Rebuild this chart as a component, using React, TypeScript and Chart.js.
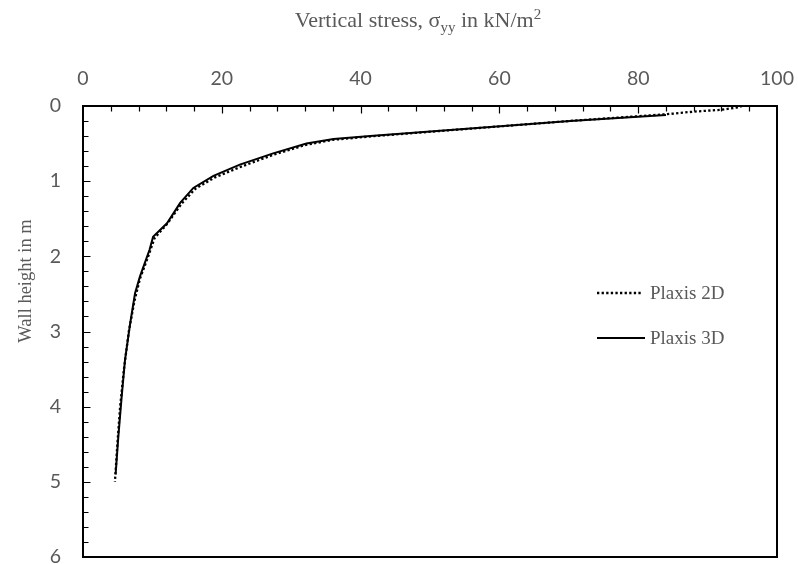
import { useEffect, useRef } from "react";
import { Chart, registerables } from "chart.js";

Chart.register(...registerables);

// Vertical stress (kN/m²) against depth below the wall top (m)
const depth2D = [0.0, 0.02, 0.05, 0.075, 0.11, 0.2, 0.3, 0.4, 0.45, 0.52, 0.65, 0.8, 0.95, 1.1, 1.3, 1.56, 1.76, 2.0, 2.3, 2.6, 3.0, 3.5, 4.0, 4.5, 5.0];
const stress2D = [95.0, 94.2, 92.0, 88.0, 84.0, 70.0, 56.0, 42.0, 36.0, 32.0, 27.4, 23.0, 19.0, 16.2, 14.2, 12.2, 10.3, 9.4, 8.2, 7.4, 6.6, 5.9, 5.35, 4.95, 4.6];

const depth3D = [0.12, 0.2, 0.3, 0.4, 0.44, 0.5, 0.63, 0.78, 0.93, 1.09, 1.29, 1.56, 1.74, 1.91, 2.27, 2.49, 2.89, 3.38, 3.87, 4.4, 4.9];
const stress3D = [84.0, 70.2, 55.8, 41.4, 36.1, 32.2, 27.4, 22.6, 18.8, 15.9, 14.0, 12.1, 10.1, 9.6, 8.2, 7.5, 6.8, 6.05, 5.57, 5.09, 4.7];

const seriesNames = ["Plaxis 2D", "Plaxis 3D"];

const stressMin = 0;
const stressMax = 100;
const stressStep = 20;
const stressMinorStep = 4;
const depthMin = 0;
const depthMax = 6;
const depthStep = 1;
const depthMinorStep = 0.2;

const yTitle = "Wall height in m";
const xTitleMain = "Vertical stress, σ";
const xTitleSub = "yy";
const xTitleRest = " in kN/m";
const xTitleSup = "2";

const GRAY = "#595959";
const SERIF = '"Liberation Serif", "Times New Roman", serif';
const SANS = 'Lato, "Open Sans", sans-serif';

const toPoints = (xs: number[], ys: number[]) => xs.map((x, i) => ({ x, y: ys[i] }));

// Closed frame with inward-pointing major and minor tick marks
const framePlugin = {
  id: "frameTicks",
  afterDatasetsDraw(chart: any) {
    const { ctx, chartArea } = chart;
    const xs = chart.scales.x;
    const ys = chart.scales.y;
    ctx.save();
    ctx.strokeStyle = "#000";
    ctx.lineWidth = 1.2;
    ctx.beginPath();
    for (let v = stressMin + stressMinorStep; v < stressMax - 1e-6; v += stressMinorStep) {
      const px = Math.round(xs.getPixelForValue(v)) + 0.5;
      const major = Math.abs(v / stressStep - Math.round(v / stressStep)) < 1e-6;
      ctx.moveTo(px, chartArea.top);
      ctx.lineTo(px, chartArea.top + (major ? 7.5 : 5.5));
    }
    for (let v = depthMin + depthMinorStep; v < depthMax - 1e-6; v += depthMinorStep) {
      const py = Math.round(ys.getPixelForValue(v)) + 0.5;
      const major = Math.abs(v / depthStep - Math.round(v / depthStep)) < 1e-6;
      ctx.moveTo(chartArea.left, py);
      ctx.lineTo(chartArea.left + (major ? 7.5 : 5.5), py);
    }
    ctx.stroke();
    ctx.lineWidth = 2;
    ctx.strokeRect(chartArea.left, chartArea.top, chartArea.right - chartArea.left, chartArea.bottom - chartArea.top);
    ctx.restore();
  },
};

// Axis titles, including the subscript and superscript of the stress title
const titlePlugin = {
  id: "axisTitles",
  afterDraw(chart: any) {
    const { ctx } = chart;
    ctx.save();
    ctx.fillStyle = GRAY;
    ctx.textBaseline = "alphabetic";
    const big = `22px ${SERIF}`;
    const small = `15px ${SERIF}`;
    ctx.font = big;
    const w1 = ctx.measureText(xTitleMain).width;
    const w3 = ctx.measureText(xTitleRest).width;
    ctx.font = small;
    const w2 = ctx.measureText(xTitleSub).width;
    const w4 = ctx.measureText(xTitleSup).width;
    const total = w1 + w2 + w3 + w4;
    const cx = 418;
    const base = 27;
    let x = cx - total / 2;
    ctx.textAlign = "left";
    ctx.font = big;
    ctx.fillText(xTitleMain, x, base);
    x += w1;
    ctx.font = small;
    ctx.fillText(xTitleSub, x, base + 5);
    x += w2;
    ctx.font = big;
    ctx.fillText(xTitleRest, x, base);
    x += w3;
    ctx.font = small;
    ctx.fillText(xTitleSup, x, base - 8);

    ctx.translate(26, 281);
    ctx.rotate(-Math.PI / 2);
    ctx.font = `18.5px ${SERIF}`;
    ctx.textAlign = "center";
    ctx.textBaseline = "middle";
    ctx.fillText(yTitle, 0, 0);
    ctx.restore();
  },
};

// Legend placed inside the plot, drawing each dataset's own line style
const legendPlugin = {
  id: "insideLegend",
  afterDraw(chart: any) {
    const { ctx } = chart;
    const rows = [293, 338];
    ctx.save();
    chart.data.datasets.forEach((ds: any, i: number) => {
      const y = rows[i];
      ctx.strokeStyle = ds.borderColor;
      ctx.lineWidth = ds.borderWidth;
      ctx.setLineDash(ds.borderDash || []);
      ctx.beginPath();
      ctx.moveTo(597, y);
      ctx.lineTo(i === 0 ? 641 : 645, y);
      ctx.stroke();
      ctx.setLineDash([]);
      ctx.fillStyle = GRAY;
      ctx.font = `19px ${SERIF}`;
      ctx.textAlign = "left";
      ctx.textBaseline = "middle";
      ctx.fillText(ds.label, 650, y + 1);
    });
    ctx.restore();
  },
};

export default function App() {
  const canvasRef = useRef<HTMLCanvasElement | null>(null);

  useEffect(() => {
    const canvas = canvasRef.current;
    if (!canvas) return;
    const chart = new Chart(canvas, {
      type: "scatter",
      data: {
        datasets: [
          {
            label: seriesNames[0],
            data: toPoints(stress2D, depth2D),
            showLine: true,
            borderColor: "#000",
            borderWidth: 2.3,
            borderDash: [2.3, 2.3],
            pointRadius: 0,
            tension: 0,
            fill: false,
          },
          {
            label: seriesNames[1],
            data: toPoints(stress3D, depth3D),
            showLine: true,
            borderColor: "#000",
            borderWidth: 2,
            pointRadius: 0,
            tension: 0,
            fill: false,
          },
        ],
      },
      options: {
        responsive: false,
        animation: false,
        devicePixelRatio: 1,
        layout: { padding: { left: 0, top: 0, right: 21, bottom: 7 } },
        plugins: {
          legend: { display: false },
          tooltip: { enabled: false },
        },
        scales: {
          x: {
            type: "linear",
            position: "top",
            min: stressMin,
            max: stressMax,
            ticks: {
              stepSize: stressStep,
              color: GRAY,
              font: { family: SANS, size: 19.5 },
              padding: 16,
            },
            grid: { display: false, drawTicks: false },
            border: { display: false },
            afterFit: (s: any) => {
              s.height = 106;
              s.paddingLeft = 0;
              s.paddingRight = 0;
            },
          },
          y: {
            type: "linear",
            position: "left",
            reverse: true,
            min: depthMin,
            max: depthMax,
            ticks: {
              stepSize: depthStep,
              color: GRAY,
              font: { family: SANS, size: 19.5 },
              padding: 22,
            },
            grid: { display: false, drawTicks: false },
            border: { display: false },
            afterFit: (s: any) => {
              s.width = 83;
              s.paddingTop = 0;
              s.paddingBottom = 0;
            },
          },
        },
      },
      plugins: [framePlugin, titlePlugin, legendPlugin],
    });
    return () => chart.destroy();
  }, []);

  return (
    <div style={{ position: "fixed", left: 0, top: 0, width: 798, height: 564, background: "#fff" }}>
      <canvas ref={canvasRef} width={798} height={564} style={{ display: "block" }} />
    </div>
  );
}
